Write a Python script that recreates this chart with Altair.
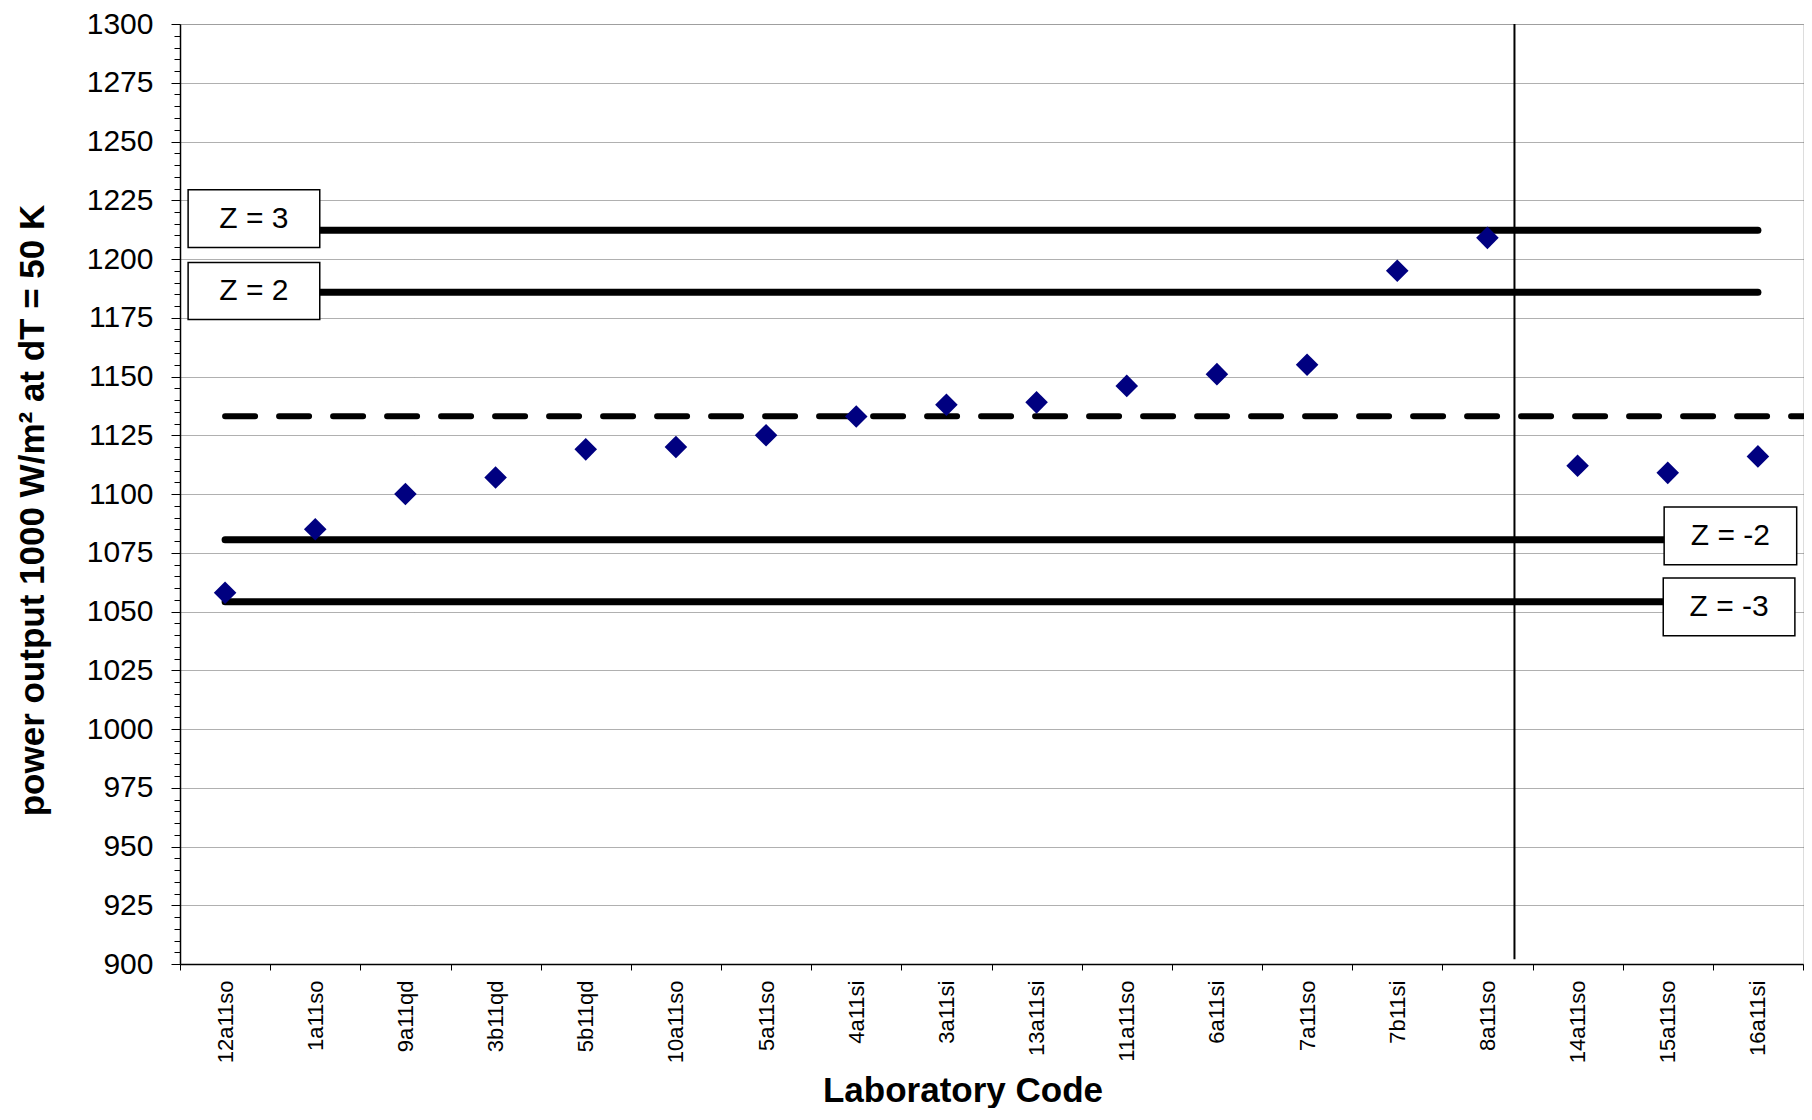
import altair as alt
import pandas as pd

# ---- data ----
labs = ["12a11so", "1a11so", "9a11qd", "3b11qd", "5b11qd", "10a11so", "5a11so",
        "4a11si", "3a11si", "13a11si", "11a11so", "6a11si", "7a11so", "7b11si",
        "8a11so", "14a11so", "15a11so", "16a11si"]
power = [1058, 1085, 1100, 1107, 1119, 1120, 1125, 1133, 1138, 1139, 1146,
         1151, 1155, 1195, 1209, 1112, 1109, 1116]

z_names = ["Z = 3", "Z = 2", "Z = -2", "Z = -3"]
z_levels = [1212.2, 1185.8, 1080.5, 1054.1]
mean_level = 1133.1

# label boxes (lab index / W/m2 coordinates)
box_x1 = [0.59, 0.59, 16.96, 16.95]
box_x2 = [2.05, 2.05, 18.43, 18.41]
box_y1 = [1204.9, 1174.3, 1069.9, 1039.7]
box_y2 = [1229.5, 1198.5, 1094.5, 1064.3]

line_start = 1
line_end = 18
mean_end = 18.5
divider_x = 15.3
divider_y = [902, 1300]

y_ticks = list(range(900, 1301, 5))

FONT = "Liberation Sans"

pts_df = pd.DataFrame({"lab": labs, "power": power})
z_df = pd.DataFrame({"name": z_names, "level": z_levels,
                     "x1": [line_start] * 4, "x2": [line_end] * 4})
mean_df = pd.DataFrame({"level": [mean_level], "x1": [line_start], "x2": [mean_end]})
div_df = pd.DataFrame({"x": [divider_x], "y1": [divider_y[0]], "y2": [divider_y[1]]})
box_df = pd.DataFrame({"name": z_names, "x1": box_x1, "x2": box_x2,
                       "y1": box_y1, "y2": box_y2})
box_df["xc"] = (box_df["x1"] + box_df["x2"]) / 2
box_df["yc"] = (box_df["y1"] + box_df["y2"]) / 2

yscale = alt.Scale(domain=[900, 1300], nice=False, zero=False)
xq = alt.Scale(domain=[0.5, 18.5], nice=False, zero=False)

is_major = "datum.value % 25 === 0"

y_axis = alt.Axis(
    title="power output 1000 W/m² at dT = 50 K",
    values=y_ticks,
    format="d",
    labelExpr=f"{is_major} ? datum.label : ''",
    labelOverlap=False,
    labelFlush=False,
    labelFont=FONT, labelFontSize=30, labelColor="black", labelPadding=18,
    tickColor="black", tickWidth=1,
    tickSize={"condition": {"test": is_major, "value": 9}, "value": 6},
    grid=True, gridColor="#606060", gridDash=[1, 1], gridWidth=1,
    gridOpacity={"condition": {"test": is_major, "value": 1}, "value": 0},
    domainColor="black", domainWidth=1.5,
    titleFont=FONT, titleFontSize=35, titleFontWeight="bold", titleColor="black",
    titleAngle=270, titleBaseline="alphabetic", titleAlign="center",
    titleX=-137, titleY=486,
)

x_axis = alt.Axis(
    title="Laboratory Code",
    labelAngle=270, labelFont=FONT, labelFontSize=22, labelColor="black",
    labelPadding=10,
    tickBand="extent", tickSize=6, tickColor="black", tickWidth=1,
    grid=False, domainColor="black", domainWidth=1.5,
    titleFont=FONT, titleFontSize=35, titleFontWeight="bold", titleColor="black",
    titleBaseline="alphabetic", titleX=782.5, titleY=137,
)

points = alt.Chart(pts_df).mark_point(
    shape="diamond", filled=True, size=510, color="#000080", opacity=1
).encode(
    x=alt.X("lab:N", sort=labs,
            scale=alt.Scale(paddingInner=0, paddingOuter=0), axis=x_axis),
    y=alt.Y("power:Q", scale=yscale, axis=y_axis),
)

z_lines = alt.Chart(z_df).mark_rule(
    color="black", strokeWidth=7, strokeCap="round"
).encode(
    x=alt.X("x1:Q", scale=xq, axis=None),
    x2="x2:Q",
    y=alt.Y("level:Q", scale=yscale, axis=y_axis),
)

mean_line = alt.Chart(mean_df).mark_rule(
    color="black", strokeWidth=6, strokeCap="round", strokeDash=[30, 24]
).encode(
    x=alt.X("x1:Q", scale=xq, axis=None),
    x2="x2:Q",
    y=alt.Y("level:Q", scale=yscale, axis=y_axis),
)

divider = alt.Chart(div_df).mark_rule(color="black", strokeWidth=2).encode(
    x=alt.X("x:Q", scale=xq, axis=None),
    y=alt.Y("y1:Q", scale=yscale, axis=y_axis),
    y2="y2:Q",
)

boxes = alt.Chart(box_df).mark_rect(
    fill="white", stroke="black", strokeWidth=1.5
).encode(
    x=alt.X("x1:Q", scale=xq, axis=None),
    x2="x2:Q",
    y=alt.Y("y1:Q", scale=yscale, axis=y_axis),
    y2="y2:Q",
)

box_text = alt.Chart(box_df).mark_text(
    font=FONT, fontSize=30, color="black", align="center", baseline="middle"
).encode(
    x=alt.X("xc:Q", scale=xq, axis=None),
    y=alt.Y("yc:Q", scale=yscale, axis=y_axis),
    text="name:N",
)

chart = alt.layer(
    z_lines, mean_line, divider, boxes, box_text, points
).resolve_scale(
    x="independent"
).properties(
    width=1623, height=940,
    autosize=alt.AutoSizeParams(type="none"),
    padding={"left": 172, "top": 16, "right": 1, "bottom": 144},
).configure_view(
    stroke="black", strokeWidth=1
).configure(background="white")

chart.save("out.html", embed_options={"renderer": "svg", "actions": False})
